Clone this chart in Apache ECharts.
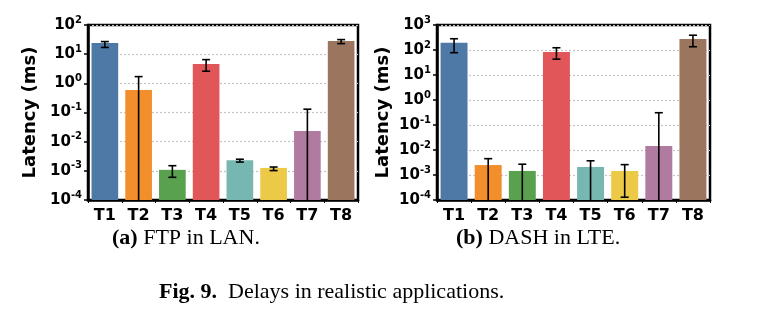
<!DOCTYPE html>
<html>
<head>
<meta charset="utf-8">
<script src="https://cdn.jsdelivr.net/npm/echarts@6/dist/echarts.min.js"></script>
<style>
  html, body { margin: 0; padding: 0; background: #fff; }
  #chart { width: 780px; height: 322px; }
</style>
</head>
<body>
<div id="chart"></div>
<script>
// categories and colours (one per test)
const cats = ['T1', 'T2', 'T3', 'T4', 'T5', 'T6', 'T7', 'T8']
const colors = ['#4e79a7', '#f28e2b', '#59a14f', '#e15759', '#76b7b2', '#edc948', '#b07aa1', '#9c755f']

// (a) FTP in LAN: mean and error range, 0 = below the axis
const ftpMean = [24, 0.59, 0.00108, 4.6, 0.0023, 0.00126, 0.023, 28]
const ftpHigh = [27, 1.7, 0.0015, 6.5, 0.0025, 0.00135, 0.13, 31.6]
const ftpLow = [17, 0, 0.0006, 2.6, 0.002, 0.00102, 0, 23]

// (b) DASH in LTE
const dashMean = [195, 0.0025, 0.00145, 83, 0.0021, 0.00145, 0.0145, 275]
const dashHigh = [282, 0.0045, 0.0027, 123, 0.0037, 0.0026, 0.31, 390]
const dashLow = [78, 0, 0, 43, 0, 0.000129, 0, 135]

const chart = echarts.init(document.getElementById('chart'))
const sans = 'DejaVu Sans'
const serif = 'Liberation Serif'

// 10^n labels with superscript
const powLabel = v => {
  const e = Math.round(Math.log10(v))
  return '{b|10}{s|' + e + '}'
}

const yAxisOf = (gridIndex, max) => ({
  type: 'log',
  logBase: 10,
  gridIndex,
  min: 1e-4,
  max,
  name: 'Latency (ms)',
  nameLocation: 'middle',
  nameGap: gridIndex === 0 ? 49 : 45,
  nameTextStyle: { fontFamily: sans, fontWeight: 'bold', fontSize: 18, color: '#000' },
  axisLine: { show: true, lineStyle: { color: '#000', width: 2.5 } },
  axisTick: { show: true, length: 4, lineStyle: { color: '#000', width: 1.5 } },
  minorTick: { show: false },
  splitLine: { show: true, lineStyle: { color: '#c4c4c4', type: [2, 2], width: 1.2 } },
  axisLabel: {
    formatter: powLabel,
    margin: 6,
    rich: {
      b: { fontFamily: sans, fontWeight: 'bold', fontSize: 15, color: '#000' },
      s: { fontFamily: sans, fontWeight: 'bold', fontSize: 10, color: '#000', padding: [0, 0, 10, 0] }
    }
  }
})

const xAxisOf = gridIndex => ({
  type: 'category',
  gridIndex,
  data: cats,
  axisLine: { show: true, lineStyle: { color: '#000', width: 2.5 } },
  axisTick: { show: true, length: 3, lineStyle: { color: '#000' } },
  axisLabel: { fontFamily: sans, fontWeight: 'bold', fontSize: 16, color: '#000', margin: 8 }
})

// bars drawn from the bottom of the log axis up to the mean
const barSeries = (idx, mean) => ({
  type: 'custom',
  xAxisIndex: idx,
  yAxisIndex: idx,
  silent: true,
  z: 2,
  data: mean.map((v, i) => [i, v]),
  renderItem: (params, api) => {
    const pt = api.coord([api.value(0), api.value(1)])
    const bottomEdge = params.coordSys.y + params.coordSys.height
    const w = api.size([1, 0])[0] * 0.79
    return {
      type: 'rect',
      shape: { x: pt[0] - w / 2, y: pt[1], width: w, height: bottomEdge - pt[1] },
      style: { fill: colors[params.dataIndex] }
    }
  }
})

// error bars: vertical line + caps, clipped at the bottom of the plot
const errSeries = (idx, high, low) => ({
  type: 'custom',
  xAxisIndex: idx,
  yAxisIndex: idx,
  silent: true,
  z: 5,
  data: cats.map((c, i) => [i, high[i], low[i]]),
  renderItem: (params, api) => {
    const x = api.coord([api.value(0), 1])[0]
    const top = api.coord([api.value(0), api.value(1)])[1]
    const bottomEdge = params.coordSys.y + params.coordSys.height
    const lowVal = api.value(2)
    const clipped = !(lowVal > 0)
    const bot = clipped ? bottomEdge : api.coord([api.value(0), lowVal])[1]
    const w = 4
    const st = { stroke: '#000', lineWidth: 1.6 }
    const children = [
      { type: 'line', shape: { x1: x, y1: top, x2: x, y2: bot }, style: st },
      { type: 'line', shape: { x1: x - w, y1: top, x2: x + w, y2: top }, style: st }
    ]
    if (!clipped) {
      children.push({ type: 'line', shape: { x1: x - w, y1: bot, x2: x + w, y2: bot }, style: st })
    }
    return { type: 'group', children }
  }
})

const captionStyle = text => ({
  text,
  fontFamily: serif, fontSize: 22, fill: '#000',
  rich: { b: { fontFamily: serif, fontSize: 22, fontWeight: 'bold', fill: '#000' } }
})

const options = {
  animation: false,
  backgroundColor: '#fff',
  grid: [
    { left: 88, top: 25, width: 270, height: 175, show: true, borderColor: '#000', borderWidth: 2.5, backgroundColor: 'transparent' },
    { left: 437, top: 25, width: 273, height: 175, show: true, borderColor: '#000', borderWidth: 2.5, backgroundColor: 'transparent' }
  ],
  xAxis: [xAxisOf(0), xAxisOf(1)],
  yAxis: [yAxisOf(0, 100), yAxisOf(1, 1000)],
  series: [
    barSeries(0, ftpMean),
    barSeries(1, dashMean),
    errSeries(0, ftpHigh, ftpLow),
    errSeries(1, dashHigh, dashLow)
  ],
  graphic: [
    { type: 'text', left: 112, top: 227, style: captionStyle('{b|(a)} FTP in LAN.') },
    { type: 'text', left: 456, top: 227, style: captionStyle('{b|(b)} DASH in LTE.') },
    { type: 'text', left: 159, top: 281, style: captionStyle('{b|Fig. 9.}  Delays in realistic applications.') }
  ]
}
chart.setOption(options)
</script>
</body>
</html>
